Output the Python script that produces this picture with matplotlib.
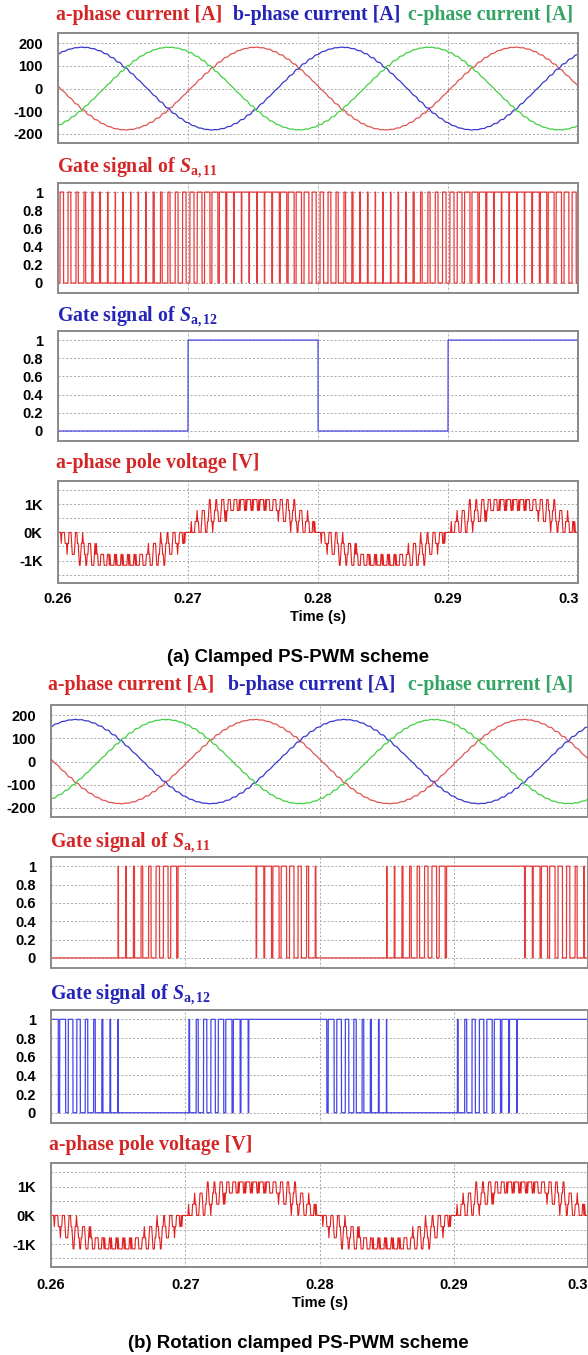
import numpy as np
import matplotlib.pyplot as plt
from matplotlib.ticker import FixedLocator

plt.rcParams['mathtext.fontset'] = 'custom'
plt.rcParams['mathtext.rm'] = 'Liberation Serif:bold'
plt.rcParams['mathtext.it'] = 'Liberation Serif:italic:bold'
plt.rcParams['mathtext.bf'] = 'Liberation Serif:bold'

# time window and axis ticks
t_start, t_stop = 0.26, 0.30
time_ticks = [0.26, 0.27, 0.28, 0.29, 0.30]
time_labels = ['0.26', '0.27', '0.28', '0.29', '0.3']
current_ticks = [-200, -100, 0, 100, 200]
gate_ticks = [0, 0.2, 0.4, 0.6, 0.8, 1]
gate_labels = ['0', '0.2', '0.4', '0.6', '0.8', '1']
volt_ticks = [-1000, 0, 1000]
volt_labels = ['-1K', '0K', '1K']
volt_minor = [-1500, -500, 500, 1500]

# operating point of the converter
f_grid = 50.0            # Hz
t_zero = 0.27            # rising zero crossing of the a-phase reference
mod_index = 0.93
cell_dc = 390.0          # V per cell
n_cells = 3
cell_shift = 1 / 12      # carrier shift between cells, in carrier periods
pole_carrier = 1000.0    # Hz
gate_carrier = 1700.0    # Hz
current_peak = 182.0     # A
current_lag = 0.0002     # s
phase_names = ['a', 'b', 'c']
phase_shifts = [0.0, -120.0, 120.0]
filter_l = 0.011         # H, sets the current ripple

# rotation clamping, one entry per quarter period starting at 0.26 s
# L = held low, H = held high, R = PWM moving up, F = PWM moving down
rot_s11 = ['L', 'R', 'H', 'F']
rot_s12 = ['F', 'L', 'R', 'H']

dt = 1e-6
margin = 0.001
volt_decim = 50
t = np.arange(t_start - margin, t_stop + margin + dt / 2, dt)
theta = 2 * np.pi * f_grid * (t - t_zero)


def carrier(freq, offset=0.0):
    # unit triangle, 1 at the period start, 0 at mid period
    return 2 * np.abs(((t - t_start) * freq + offset) % 1.0 - 0.5)


def pole_voltage(shift_deg):
    s = np.sin(theta + np.radians(shift_deg))
    ref = mod_index * s
    v = np.zeros_like(t)
    for k in range(n_cells):
        c = 2 * carrier(pole_carrier, k * cell_shift) - 1
        v += cell_dc * ((ref > c).astype(float) - ((-ref) > c).astype(float))
    return v, s


def phase_current(shift_deg):
    v, s = pole_voltage(shift_deg)
    ripple = np.cumsum(v - n_cells * cell_dc * mod_index * s) * dt / filter_l
    win = int(round(1 / pole_carrier / dt))
    ripple -= np.convolve(ripple, np.ones(win) / win, mode='same')
    fund = current_peak * np.sin(theta - 2 * np.pi * f_grid * current_lag + np.radians(shift_deg))
    return fund + ripple


def rotated_gate(pattern):
    quarter = np.floor((theta + np.pi) / (np.pi / 2)).astype(int) % 4
    mag = mod_index * np.abs(np.sin(theta))
    rising_mag = (quarter % 2 == 0)
    tri = carrier(gate_carrier)
    g = np.zeros_like(t)
    for q, mode in enumerate(pattern):
        sel = quarter == q
        if mode == 'H':
            g[sel] = 1
        elif mode == 'L':
            g[sel] = 0
        else:
            up = (mode == 'R') == rising_mag[sel]
            duty = np.where(up, mag[sel], 1 - mag[sel])
            g[sel] = (duty > tri[sel]).astype(float)
    return g


currents = [phase_current(s) for s in phase_shifts]
v_pole, sin_a = pole_voltage(0.0)
clamp_s11 = (0.5 * (1 + mod_index * sin_a) > carrier(gate_carrier)).astype(float)
clamp_s12 = (sin_a > 0).astype(float)
rot_gate11 = rotated_gate(rot_s11)
rot_gate12 = rotated_gate(rot_s12)

W, H = 588, 1355
fig = plt.figure(figsize=(W / 100, H / 100), dpi=100)

red_title = '#d42626'
blue_title = '#2424b8'
green_title = '#34a464'
current_colors = ['#e05555', '#3a3acc', '#44d044']
gate11_color = '#e83a3a'
gate12_color = '#4646e6'
volt_color = '#e21e1e'
tick_font = dict(family='Liberation Sans', weight='bold', size=10.5)
title_font = dict(family='Liberation Serif', weight='bold', size=14.3)


def add_panel(left, right, top, bottom):
    ax = fig.add_axes([left / W, 1 - bottom / H, (right - left) / W, (bottom - top) / H])
    ax.set_xlim(t_start, t_stop)
    ax.xaxis.set_major_locator(FixedLocator(time_ticks))
    ax.set_xticklabels([])
    ax.tick_params(length=0, pad=11)
    for sp in ax.spines.values():
        sp.set_color('#8a8a8a')
        sp.set_linewidth(1.4)
    ax.grid(True, which='both', color='#a8a8a8', linestyle=(0, (2, 2)), linewidth=0.7)
    ax.set_axisbelow(True)
    return ax


def style_yticks(ax, ticks, labels):
    ax.yaxis.set_major_locator(FixedLocator(ticks))
    ax.set_yticklabels(labels, fontdict=tick_font)


sections = [
    dict(left=58, right=578, cur=(33, 143), g11=(183, 293), g12=(331, 441), volt=(481, 583),
         head_y=15, head_x=[56, 233, 408], g11_title=(57, 168), g12_title=(57, 317),
         volt_title=(56, 463), xlab_y=599, time_y=617, cap_y=658,
         caption='(a) Clamped PS-PWM scheme', gates=(clamp_s11, clamp_s12)),
    dict(left=51, right=588, cur=(705, 817), g11=(857, 968), g12=(1010, 1123), volt=(1163, 1267),
         head_y=685, head_x=[48, 228, 408], g11_title=(50, 843), g12_title=(50, 995),
         volt_title=(49, 1145), xlab_y=1285, time_y=1303, cap_y=1343,
         caption='(b) Rotation clamped PS-PWM scheme', gates=(rot_gate11, rot_gate12)),
]

for sec in sections:
    L, R = sec['left'], sec['right']

    # phase currents
    ax = add_panel(L, R, *sec['cur'])
    for i_ph, col in zip(currents, current_colors):
        ax.plot(t[::10], i_ph[::10], color=col, lw=0.9)
    ax.set_ylim(-240, 245)
    style_yticks(ax, current_ticks, [str(v) for v in current_ticks])
    colors = [red_title, blue_title, green_title]
    for name, x, col in zip(phase_names, sec['head_x'], colors):
        fig.text(x / W, 1 - sec['head_y'] / H, f'{name}-phase current [A]', color=col,
                 va='center', ha='left', **title_font)

    # gate signals
    for key, gate, col, tcol, label in [
            ('g11', sec['gates'][0], gate11_color, red_title, '11'),
            ('g12', sec['gates'][1], gate12_color, blue_title, '12')]:
        ax = add_panel(L, R, *sec[key])
        ax.plot(t, gate, color=col, lw=0.9)
        ax.set_ylim(-0.11, 1.1)
        style_yticks(ax, gate_ticks, gate_labels)
        tx, ty = sec[key + '_title']
        fig.text(tx / W, 1 - ty / H, r'Gate signal of $S_{\mathrm{a,' + label + '}}$',
                 color=tcol, va='center', ha='left', **title_font)

    # pole voltage
    ax = add_panel(L, R, *sec['volt'])
    ax.plot(t[::volt_decim], v_pole[::volt_decim], color=volt_color, lw=0.8)
    ax.set_ylim(-1800, 1830)
    style_yticks(ax, volt_ticks, volt_labels)
    ax.yaxis.set_minor_locator(FixedLocator(volt_minor))
    ax.tick_params(which='minor', length=0)
    tx, ty = sec['volt_title']
    fig.text(tx / W, 1 - ty / H, 'a-phase pole voltage [V]', color=red_title,
             va='center', ha='left', **title_font)

    # time axis labels, the last one kept inside the page
    for tk, lab in zip(time_ticks, time_labels):
        x = L + (tk - t_start) / (t_stop - t_start) * (R - L)
        ha = 'center'
        if tk == time_ticks[-1]:
            x, ha = min(R + 1, W), 'right'
        fig.text(x / W, 1 - sec['xlab_y'] / H, lab, ha=ha, va='center', **tick_font)
    fig.text((L + R) / 2 / W, 1 - sec['time_y'] / H, 'Time (s)', ha='center', va='center',
             **tick_font)
    fig.text(298 / W, 1 - sec['cap_y'] / H, sec['caption'], ha='center', va='center',
             family='Liberation Sans', weight='bold', size=13.4)

fig.savefig('out.png', dpi=100, facecolor='white')
